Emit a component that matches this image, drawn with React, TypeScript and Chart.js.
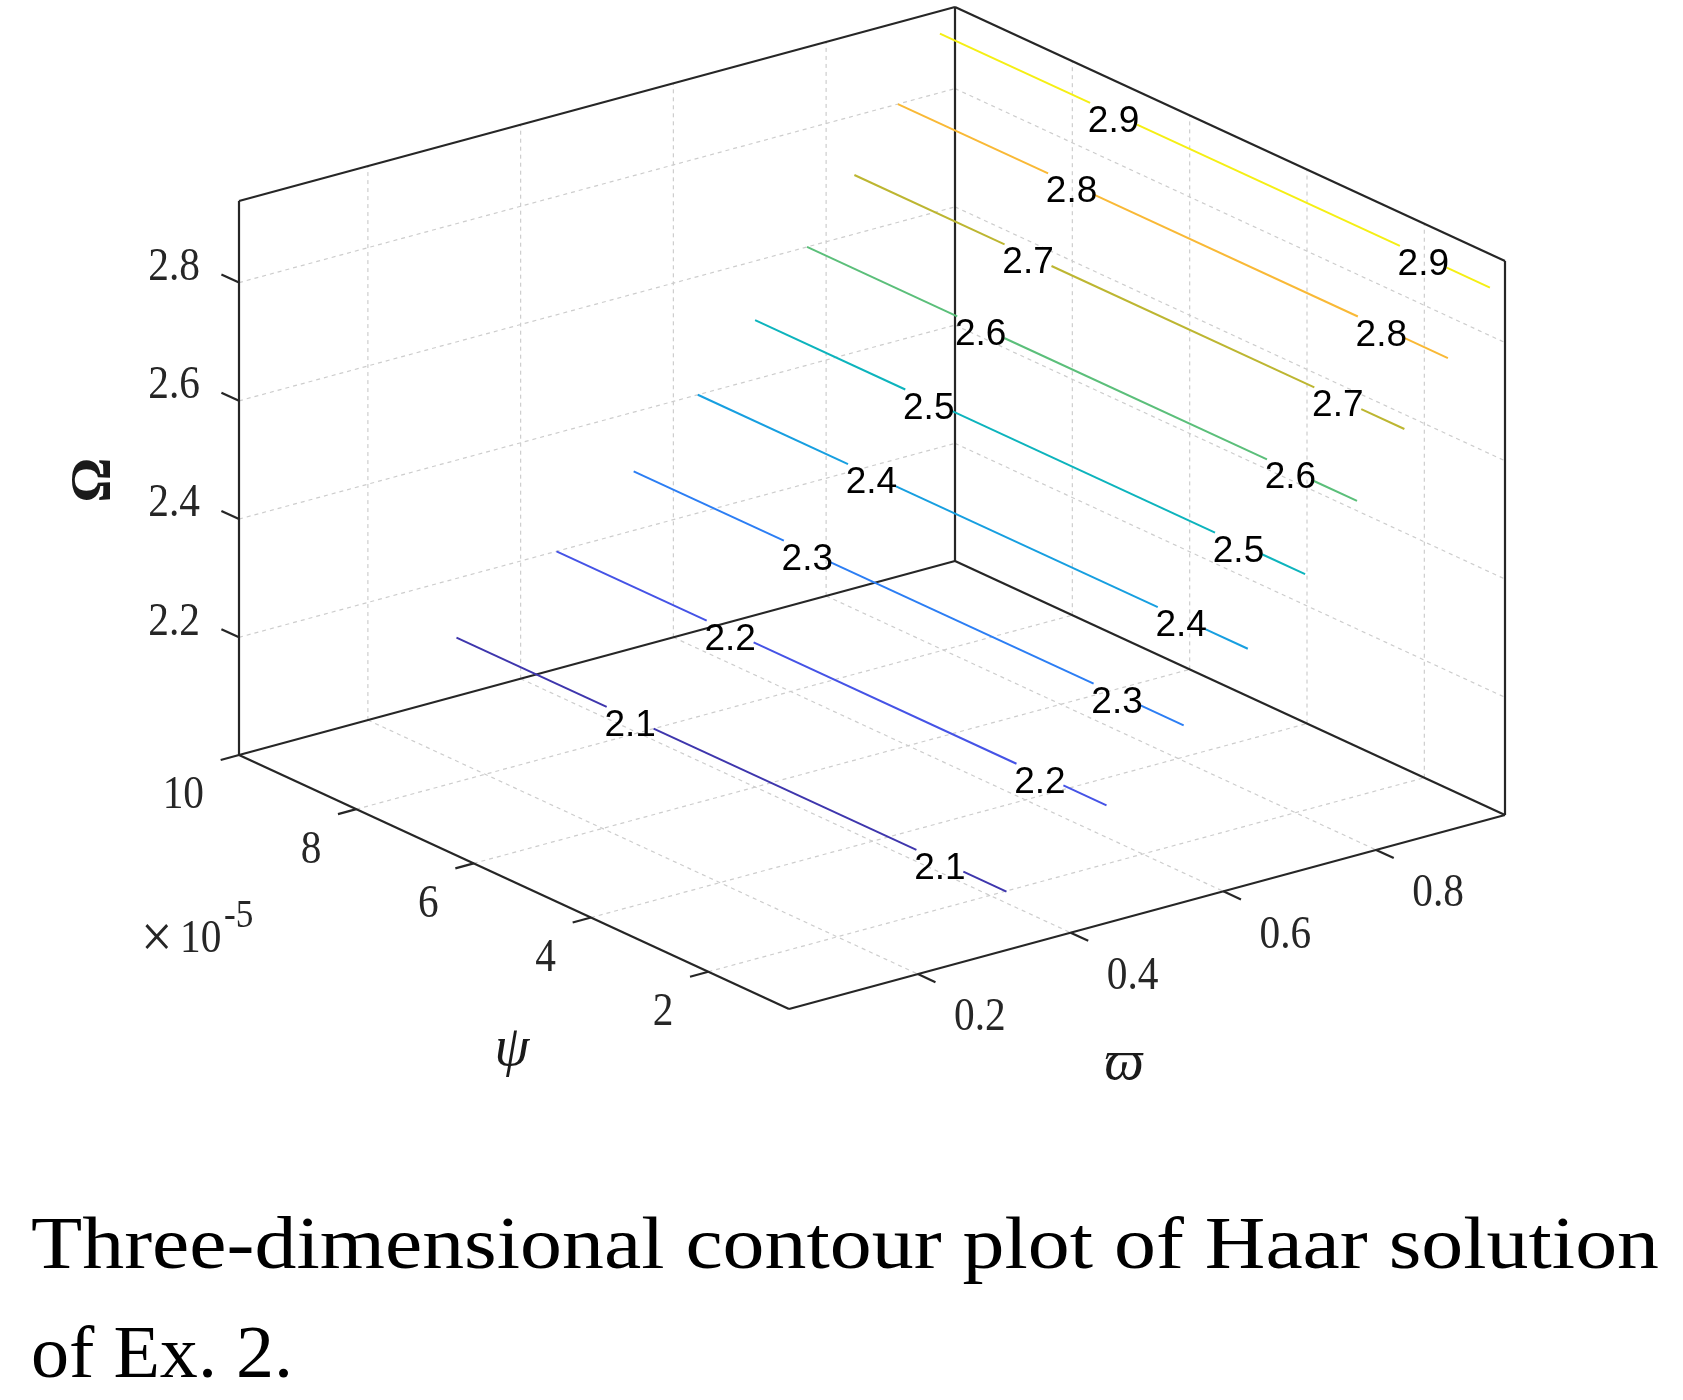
import React, { useEffect, useRef } from 'react';
import { Chart, registerables } from 'chart.js';

Chart.register(...registerables);

// ---------------- data ----------------
const contourLevels = [2.1, 2.2, 2.3, 2.4, 2.5, 2.6, 2.7, 2.8, 2.9];
// varpi position of each (straight) contour line
const contourVarpi = [0.316, 0.447, 0.548, 0.632, 0.707, 0.775, 0.837, 0.894, 0.949];
const contourColors = ['#3e36ad', '#4553e6', '#2c7ef4', '#179fe0', '#0db4bd', '#5bbf7a', '#bdb631', '#f9b936', '#f5ef14'];
// psi values where the inline level labels sit
const labelPsi = [7.04e-5, 1.76e-5];

const varpiRange = [0.03125, 0.96875];
const psiRange = [0.625e-5, 10e-5];
const omegaRange = [2.001, 2.938];

const varpiTicks = [0.2, 0.4, 0.6, 0.8];
const varpiTickLabels = ['0.2', '0.4', '0.6', '0.8'];
const psiTicks = [2e-5, 4e-5, 6e-5, 8e-5, 10e-5];
const psiTickLabels = ['2', '4', '6', '8', '10'];
const omegaTicks = [2.2, 2.4, 2.6, 2.8];
const omegaTickLabels = ['2.2', '2.4', '2.6', '2.8'];

const captionLines = ['Three-dimensional contour plot of Haar solution', 'of Ex. 2.'];

// ---------------- view (layout) ----------------
const W = 1683;
const H = 1400;
const VIEW = { ox: 239, oy: 755, wx: 716, wy: -194, px: 550, py: 254, zx: 0, zy: -554 };
const LABEL_GAP = 0.4e-5; // half gap in psi around inline labels
const TICK_PSI = 0.3e-5;
const TICK_VARPI = 0.024;
const CAPTION_WIDTHS = [1628, 262];

function project(w: number, p: number, z: number) {
  const fw = (w - varpiRange[0]) / (varpiRange[1] - varpiRange[0]);
  const fp = (psiRange[1] - p) / (psiRange[1] - psiRange[0]);
  const fz = (z - omegaRange[0]) / (omegaRange[1] - omegaRange[0]);
  return {
    x: VIEW.ox + fw * VIEW.wx + fp * VIEW.px + fz * VIEW.zx,
    y: VIEW.oy + fw * VIEW.wy + fp * VIEW.py + fz * VIEW.zy,
  };
}

type P3 = [number, number, number];

function seg(a: P3, b: P3, color: string, width: number, dash: number[], order: number) {
  return {
    type: 'scatter' as const,
    data: [project(a[0], a[1], a[2]), project(b[0], b[1], b[2])],
    showLine: true,
    pointRadius: 0,
    pointHoverRadius: 0,
    borderColor: color,
    backgroundColor: color,
    borderWidth: width,
    borderDash: dash,
    borderCapStyle: 'butt' as const,
    fill: false,
    order,
  };
}

function buildDatasets() {
  const [w0, w1] = varpiRange;
  const [p0, p1] = psiRange;
  const [z0, z1] = omegaRange;
  const ds: any[] = [];
  const gridC = '#cdcdcd';
  const gridDash = [4, 4];
  // grid on psi = max wall
  varpiTicks.forEach((w) => ds.push(seg([w, p1, z0], [w, p1, z1], gridC, 1.2, gridDash, 5)));
  omegaTicks.forEach((z) => ds.push(seg([w0, p1, z], [w1, p1, z], gridC, 1.2, gridDash, 5)));
  // grid on varpi = max wall
  psiTicks.filter((p) => p < p1).forEach((p) => ds.push(seg([w1, p, z0], [w1, p, z1], gridC, 1.2, gridDash, 5)));
  omegaTicks.forEach((z) => ds.push(seg([w1, p1, z], [w1, p0, z], gridC, 1.2, gridDash, 5)));
  // floor grid
  varpiTicks.forEach((w) => ds.push(seg([w, p1, z0], [w, p0, z0], gridC, 1.2, gridDash, 5)));
  psiTicks.filter((p) => p < p1).forEach((p) => ds.push(seg([w0, p, z0], [w1, p, z0], gridC, 1.2, gridDash, 5)));

  const boxC = '#262626';
  const bw = 2.2;
  // floor edges
  ds.push(seg([w0, p1, z0], [w0, p0, z0], boxC, bw, [], 3));
  ds.push(seg([w0, p0, z0], [w1, p0, z0], boxC, bw, [], 3));
  ds.push(seg([w1, p0, z0], [w1, p1, z0], boxC, bw, [], 3));
  ds.push(seg([w1, p1, z0], [w0, p1, z0], boxC, bw, [], 3));
  // verticals
  ds.push(seg([w0, p1, z0], [w0, p1, z1], boxC, bw, [], 3));
  ds.push(seg([w1, p1, z0], [w1, p1, z1], boxC, bw, [], 3));
  ds.push(seg([w1, p0, z0], [w1, p0, z1], boxC, bw, [], 3));
  // top edges
  ds.push(seg([w0, p1, z1], [w1, p1, z1], boxC, bw, [], 3));
  ds.push(seg([w1, p1, z1], [w1, p0, z1], boxC, bw, [], 3));
  // ticks
  omegaTicks.forEach((z) => ds.push(seg([w0, p1, z], [w0, p1 + TICK_PSI, z], boxC, bw, [], 3)));
  psiTicks.forEach((p) => ds.push(seg([w0, p, z0], [w0 - TICK_VARPI, p, z0], boxC, bw, [], 3)));
  varpiTicks.forEach((w) => ds.push(seg([w, p0, z0], [w, p0 - TICK_PSI, z0], boxC, bw, [], 3)));

  // contour lines, broken around the inline labels
  contourLevels.forEach((lev, i) => {
    const w = contourVarpi[i];
    const c = contourColors[i];
    const cuts = [p1, labelPsi[0] + LABEL_GAP, labelPsi[0] - LABEL_GAP, labelPsi[1] + LABEL_GAP, labelPsi[1] - LABEL_GAP, p0];
    for (let k = 0; k < cuts.length; k += 2) {
      ds.push(seg([w, cuts[k], lev], [w, cuts[k + 1], lev], c, 2, [], 1));
    }
  });
  return ds;
}

function drawScaled(ctx: CanvasRenderingContext2D, text: string, x: number, y: number, sx: number) {
  ctx.save();
  ctx.translate(x, y);
  ctx.scale(sx, 1);
  ctx.fillText(text, 0, 0);
  ctx.restore();
}

const textPlugin = {
  id: 'textPlugin',
  afterDatasetsDraw(chart: any) {
    const ctx: CanvasRenderingContext2D = chart.ctx;
    const xs = chart.scales.x;
    const ys = chart.scales.y;
    const px = (pt: { x: number; y: number }) => ({ x: xs.getPixelForValue(pt.x), y: ys.getPixelForValue(pt.y) });
    const [w0, w1] = varpiRange;
    const [p0, p1] = psiRange;
    const [z0] = omegaRange;
    ctx.save();
    ctx.fillStyle = '#000000';

    // inline contour labels
    ctx.font = '37px "Liberation Sans", Arial, sans-serif';
    ctx.textAlign = 'center';
    ctx.textBaseline = 'middle';
    contourLevels.forEach((lev, i) => {
      labelPsi.forEach((p) => {
        const q = px(project(contourVarpi[i], p, lev));
        ctx.fillText(lev.toFixed(1), q.x, q.y + 8);
      });
    });

    const tickFont = '47px "Liberation Serif", "Times New Roman", serif';
    const SX = 0.88;
    ctx.fillStyle = '#262626';
    ctx.font = tickFont;
    // Omega ticks
    ctx.textAlign = 'right';
    omegaTicks.forEach((z, i) => {
      const q = px(project(w0, p1 + 2.1 * TICK_PSI, z));
      drawScaled(ctx, omegaTickLabels[i], q.x - 2, q.y + 2, SX);
    });
    // psi ticks
    psiTicks.forEach((p, i) => {
      const q = px(project(w0, p, z0));
      drawScaled(ctx, psiTickLabels[i], q.x - 35, q.y + 41, SX);
    });
    // varpi ticks
    ctx.textAlign = 'center';
    varpiTicks.forEach((w, i) => {
      const q = px(project(w, p0, z0));
      drawScaled(ctx, varpiTickLabels[i], q.x + 62, q.y + 44, SX);
    });
    // exponent
    ctx.textAlign = 'left';
    ctx.font = '62px "Liberation Serif", "Times New Roman", serif';
    drawScaled(ctx, '\u00d7', 141, 941, 0.9);
    ctx.font = tickFont;
    drawScaled(ctx, '10', 180, 940, SX);
    ctx.font = '40px "Liberation Serif", "Times New Roman", serif';
    drawScaled(ctx, '-5', 224, 916, SX);

    // axis labels
    ctx.fillStyle = '#1a1a1a';
    ctx.textAlign = 'center';
    ctx.save();
    ctx.translate(96, 480);
    ctx.rotate(-Math.PI / 2);
    ctx.font = 'bold 56px "Liberation Serif", "DejaVu Serif", serif';
    ctx.fillText('\u03a9', 0, 0);
    ctx.restore();
    ctx.font = 'italic 56px "Liberation Serif", "DejaVu Serif", serif';
    ctx.fillText('\u03c8', 512, 1050);
    ctx.fillText('\u03d6', 1124, 1064);

    // caption
    ctx.fillStyle = '#000000';
    ctx.textAlign = 'left';
    ctx.textBaseline = 'alphabetic';
    ctx.font = '75px "Liberation Serif", "Times New Roman", serif';
    const baselines = [1268, 1377];
    captionLines.forEach((line, i) => {
      const mw = ctx.measureText(line).width;
      drawScaled(ctx, line, 31, baselines[i], CAPTION_WIDTHS[i] / mw);
    });
    ctx.restore();
  },
};

export default function App() {
  const ref = useRef<HTMLCanvasElement | null>(null);
  useEffect(() => {
    document.body.style.margin = '0';
    document.body.style.overflow = 'hidden';
    if (!ref.current) return;
    const chart = new Chart(ref.current, {
      type: 'scatter',
      data: { datasets: buildDatasets() },
      options: {
        animation: false,
        responsive: false,
        maintainAspectRatio: false,
        devicePixelRatio: 1,
        layout: { padding: 0 },
        plugins: { legend: { display: false }, tooltip: { enabled: false }, title: { display: false } },
        events: [],
        scales: {
          x: { type: 'linear', min: 0, max: W, display: false },
          y: { type: 'linear', min: 0, max: H, reverse: true, display: false },
        },
      },
      plugins: [textPlugin],
    } as any);
    return () => chart.destroy();
  }, []);
  return (
    <div style={{ width: W, height: H, background: '#ffffff' }}>
      <canvas ref={ref} width={W} height={H} style={{ display: 'block', width: W, height: H }} />
    </div>
  );
}
